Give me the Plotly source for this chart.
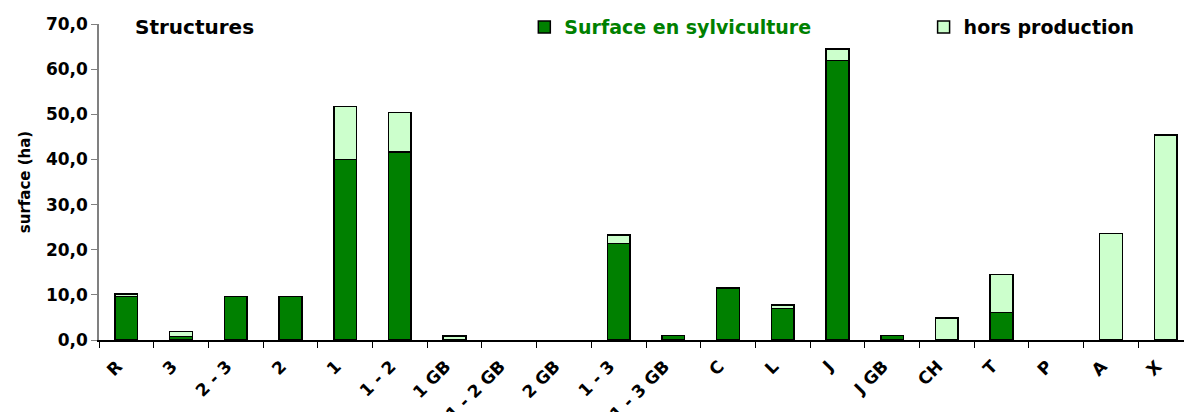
import plotly.graph_objects as go

categories = ["R", "3", "2 - 3", "2", "1", "1 - 2", "1 GB", "1 - 2 GB", "2 GB", "1 - 3",
              "1 - 3 GB", "C", "L", "J", "J GB", "CH", "T", "P", "A", "X"]
sylviculture = [9.6, 0.8, 9.6, 9.6, 40.0, 41.7, 0.0, 0.0, 0.0, 21.4,
                1.0, 11.5, 7.0, 61.9, 1.0, 0.0, 6.1, 0.0, 0.0, 0.0]
hors_production = [0.6, 1.05, 0.0, 0.0, 11.7, 8.7, 0.9, 0.0, 0.0, 1.9,
                   0.0, 0.0, 0.7, 2.6, 0.0, 4.9, 8.4, 0.0, 23.6, 45.4]
y_ticks = [0, 10, 20, 30, 40, 50, 60, 70]

FONT = "DejaVu Sans"
DARK = "#008000"
LIGHT = "#CCFFCC"


def hide_zero(values):
    # zero-height segments are not drawn in the reference
    return [v if v else None for v in values]


fig = go.Figure()
fig.add_trace(go.Bar(
    x=categories, y=hide_zero(sylviculture),
    name="Surface en sylviculture",
    marker=dict(color=DARK, line=dict(color="black", width=1.5)),
    legend="legend",
))
fig.add_trace(go.Bar(
    x=categories, y=hide_zero(hors_production),
    name="hors production",
    marker=dict(color=LIGHT, line=dict(color="black", width=1.5)),
    legend="legend2",
))

fig.add_annotation(
    text="Structures", xref="paper", yref="paper",
    x=0.031, y=0.99, xanchor="left", yanchor="middle", showarrow=False,
    font=dict(family=FONT, size=20, color="black", weight="bold"),
)

legend_common = dict(
    orientation="h", y=0.99, xanchor="left", yanchor="middle",
    bgcolor="rgba(0,0,0,0)", borderwidth=0,
)

fig.update_layout(
    width=1184, height=412,
    margin=dict(l=99, r=0, t=24, b=72),
    paper_bgcolor="white", plot_bgcolor="white",
    barmode="stack", bargap=0.585,
    separators=", ",
    font=dict(family=FONT, color="black"),
    showlegend=True,
    legend=dict(x=0.392, font=dict(family=FONT, size=19, color=DARK, weight="bold"), **legend_common),
    legend2=dict(x=0.760, font=dict(family=FONT, size=19, color="black", weight="bold"), **legend_common),
    xaxis=dict(
        type="category", range=[-0.5, 19.335],
        tickangle=-45, tickson="boundaries",
        ticks="outside", ticklen=6, tickcolor="black",
        ticklabelshift=-9, ticklabelstandoff=8,
        showline=True, linecolor="black", linewidth=1.5,
        showgrid=False, automargin=False,
        tickfont=dict(family=FONT, size=17, color="black", weight="bold"),
    ),
    yaxis=dict(
        range=[0, 70], tickvals=y_ticks, tickformat=".1f",
        ticks="outside", ticklen=6, tickcolor="#808080",
        showline=True, linecolor="#808080", linewidth=1.5,
        showgrid=False, zeroline=False, automargin=False,
        tickfont=dict(family=FONT, size=17, color="black", weight="bold"),
        title=dict(text="surface (ha)", font=dict(family=FONT, size=15, color="black", weight="bold"), standoff=12),
    ),
)

fig.write_html(
    "out.html",
    config={"displayModeBar": False},
    post_script="document.body.style.margin='0px';document.body.style.overflow='hidden';",
)
